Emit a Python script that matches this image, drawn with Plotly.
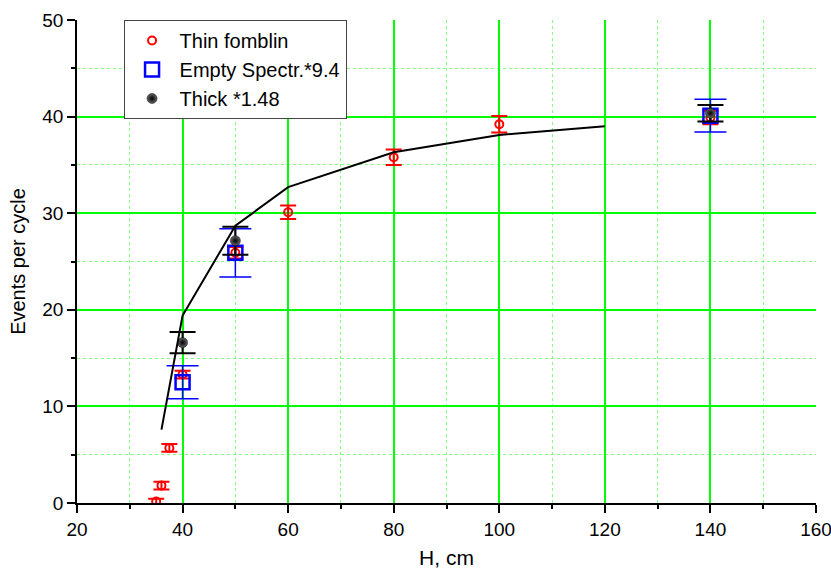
import plotly.graph_objects as go

# Thin fomblin
thin_x = [35, 36, 37.5, 40, 50, 60, 80, 100, 140]
thin_y = [0.15, 1.8, 5.7, 13.3, 25.9, 30.1, 35.8, 39.2, 39.9]
thin_err = [0.3, 0.4, 0.4, 0.4, 0.6, 0.7, 0.8, 0.85, 0.7]

# Empty spectrometer * 9.4
empty_x = [40, 50, 140]
empty_y = [12.5, 25.9, 40.1]
empty_err = [1.7, 2.5, 1.7]

# Thick * 1.48
thick_x = [40, 50, 140]
thick_y = [16.6, 27.15, 40.35]
thick_err = [1.1, 1.45, 0.85]

# Calculated curve
curve_x = [36, 40, 50, 60, 80, 100, 120]
curve_y = [7.6, 19.4, 28.7, 32.7, 36.3, 38.1, 39.0]

FONT = "Liberation Sans, Arial, sans-serif"

fig = go.Figure()

fig.add_trace(go.Scatter(
    x=thin_x, y=thin_y, mode="markers", name="Thin fomblin",
    marker=dict(symbol="circle-open", size=8, color="#ff0000", line=dict(width=2, color="#ff0000")),
    error_y=dict(type="data", array=thin_err, color="#ff0000", thickness=2, width=8),
))
fig.add_trace(go.Scatter(
    x=empty_x, y=empty_y, mode="markers", name="Empty Spectr.*9.4",
    marker=dict(symbol="square-open", size=14, color="#0000ff", line=dict(width=2.5, color="#0000ff")),
    error_y=dict(type="data", array=empty_err, color="#0000ff", thickness=1.5, width=16),
))
fig.add_trace(go.Scatter(
    x=thick_x, y=thick_y, mode="markers", name="Thick *1.48",
    marker=dict(symbol="circle", size=10, color="#666666",
                gradient=dict(type="radial", color="#000000"),
                line=dict(width=0.5, color="#000000")),
    error_y=dict(type="data", array=thick_err, color="#000000", thickness=2, width=13),
))
fig.add_trace(go.Scatter(
    x=curve_x, y=curve_y, mode="lines", showlegend=False,
    line=dict(color="#000000", width=2),
))

axis_common = dict(
    showline=True, linecolor="#000000", linewidth=1.5,
    ticks="outside", ticklen=8, tickwidth=1.5, tickcolor="#000000",
    tickfont=dict(family=FONT, size=19, color="#000000"),
    showgrid=True, gridcolor="#00ff00", gridwidth=1.5,
    zeroline=False, mirror=False, automargin=False,
    ticklabeloverflow="allow",
)

fig.update_xaxes(
    range=[20, 160], dtick=20, tick0=20,
    title=dict(text="H, cm", font=dict(family=FONT, size=21, color="#000000"), standoff=12),
    minor=dict(dtick=10, tick0=20, ticks="outside", ticklen=4, tickwidth=1.5, tickcolor="#000000",
               showgrid=True, gridcolor="#80ff80", griddash="dot", gridwidth=1),
    **axis_common,
)
fig.update_yaxes(
    range=[0, 50], dtick=10, tick0=0,
    title=dict(text="Events per cycle", font=dict(family=FONT, size=20, color="#000000"), standoff=11),
    minor=dict(dtick=5, tick0=0, ticks="outside", ticklen=4, tickwidth=1.5, tickcolor="#000000",
               showgrid=True, gridcolor="#80ff80", griddash="dot", gridwidth=1),
    **axis_common,
)

fig.update_layout(
    width=831, height=569,
    margin=dict(l=77, r=15, t=20, b=66),
    plot_bgcolor="#ffffff", paper_bgcolor="#ffffff",
    font=dict(family=FONT, color="#000000"),
    legend=dict(
        x=0.063, y=1.0, xanchor="left", yanchor="top",
        bgcolor="#ffffff", bordercolor="#444444", borderwidth=1,
        font=dict(family=FONT, size=20, color="#000000"),
        tracegroupgap=0, itemsizing="trace", itemwidth=45,
    ),
)

# remove the page's default body margin so the 831x569 figure fills the window exactly
fig.write_html(
    "out.html",
    config={"displayModeBar": False},
    post_script="document.body.style.margin='0px'; document.body.style.overflow='hidden';",
)
